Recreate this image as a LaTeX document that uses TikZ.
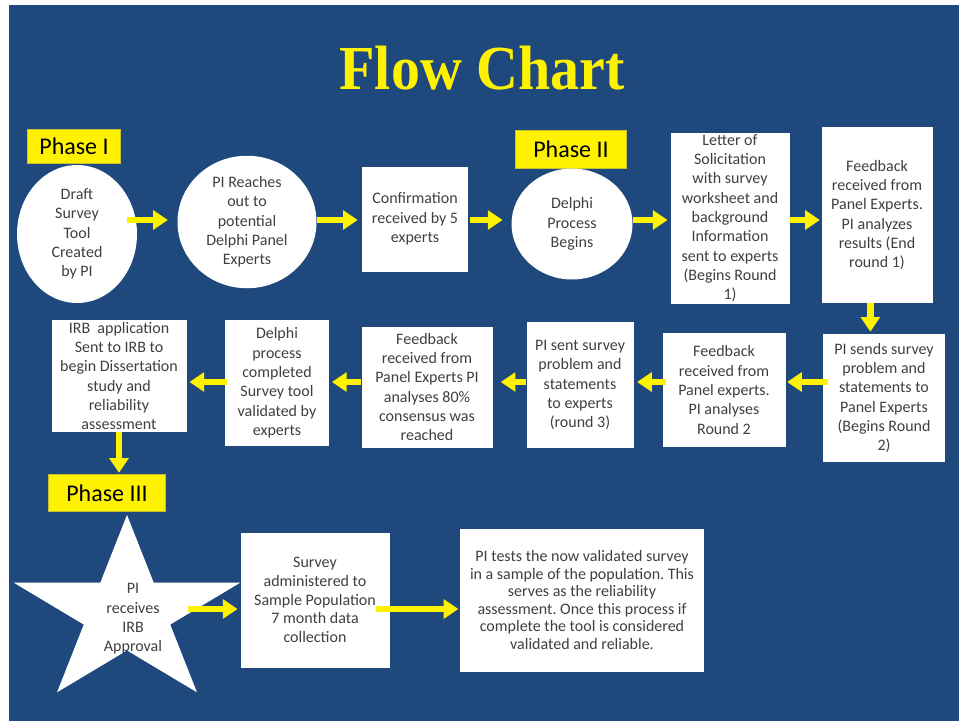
\documentclass[tikz,border=0pt]{standalone}
\usepackage{fontspec}
\setmainfont{Carlito}
\newfontfamily\titlefont{Liberation Serif}
\usepackage{xcolor}
\usepackage{tikz}
\usetikzlibrary{shapes.geometric,arrows.meta}
\frenchspacing
\definecolor{slideblue}{RGB}{31,73,125}
\definecolor{boxtext}{RGB}{64,64,64}
\tikzset{
  card/.style={fill=white,text=boxtext,align=center,inner sep=1pt,font=\fontsize{12}{14.5}\selectfont},
  oval/.style={card,ellipse},
  wh/.style 2 args={minimum width=#1*0.75pt,minimum height=#2*0.75pt},
  phase/.style={fill=yellow,draw=yellow!75!black,line width=0.5pt,text=black,inner sep=1pt,font=\fontsize{18}{21}\selectfont},
  yarrow/.style={draw=yellow,line width=5pt,-{Triangle[width=14pt,length=11pt]}}
}

\begin{document}
\begin{tikzpicture}[x=0.75pt,y=-0.75pt]
		\useasboundingbox (0,0) rectangle (959,721);
		\fill[white] (0,0) rectangle (959,721);
		\fill[slideblue] (9,5) rectangle (959,721);
		\node[anchor=base,text=yellow,font={\titlefont\bfseries\fontsize{43.5}{50}\selectfont},yscale=1.08] (title) at (482,89) {Flow Chart};
		\coordinate (row1) at (0,220);
		\coordinate (row2) at (0,382);
		\coordinate (row3) at (0,609);
		% phase I
		\node[phase,wh={93}{34}] (phaseI) at (74,146) {Phase I};
		\node[oval,wh={120}{138}] (draft) at (77,234) {Draft\\Survey\\Tool\\Created\\by PI};
		\node[oval,wh={139}{129}] (reach) at (247,222) {PI Reaches\\out to\\potential\\Delphi Panel\\Experts};
		\node[card,wh={106}{105}] (conf) at (415,219) {Confirmation\\received by 5\\experts};
		% phase II
		\node[phase,wh={111}{38}] (phaseII) at (571,149) {Phase II};
		\node[oval,wh={121}{111}] (delphi) at (572,224) {Delphi\\Process\\Begins};
		\node[card,wh={119}{171}] (letter) at (730,218) {Letter of\\Solicitation\\with survey\\worksheet and\\background\\Information\\sent to experts\\(Begins Round\\1)};
		\node[card,wh={111}{176}] (fbone) at (877,215) {Feedback\\received from\\Panel Experts.\\PI analyzes\\results (End\\round 1)};
		\node[card,wh={122}{128}] (sends) at (884,398) {PI sends survey\\problem and\\statements to\\Panel Experts\\(Begins Round\\2)};
		\node[card,wh={123}{114}] (fbtwo) at (724,390) {Feedback\\received from\\Panel experts.\\PI analyses\\Round 2};
		\node[card,wh={107}{126}] (sentthree) at (580,385) {PI sent survey\\problem and\\statements\\to experts\\(round 3)};
		\node[card,wh={131}{121}] (fbthree) at (427,387) {Feedback\\received from\\Panel Experts PI\\analyses 80\%\\consensus was\\reached};
		\node[card,wh={104}{126}] (done) at (277,383) {Delphi\\process\\completed\\Survey tool\\validated by\\experts};
		\node[card,wh={135}{112}] (irb) at (119,376) {IRB~~application\\Sent to IRB to\\begin Dissertation\\study and\\reliability\\assessment};
		% phase III
		\node[phase,wh={117}{37}] (phaseIII) at (107,493) {Phase III};
		\fill[white] plot[samples at={0,...,9},variable=\k] ({127+119*(1-0.618*mod(\k,2))*cos(90+36*\k)},{613-98*(1-0.618*mod(\k,2))*sin(90+36*\k)}) -- cycle;
		\node[card,fill=none] (approval) at (133,619) {PI\\receives\\IRB\\Approval};
		\node[card,wh={149}{135},font=\fontsize{12}{14}\selectfont] (survey) at (315,600) {Survey\\administered to\\Sample Population\\7 month data\\collection};
		\node[card,wh={244}{143},font=\fontsize{12}{13.2}\selectfont] (final) at (582,600) {PI tests the now validated survey\\in a sample of the population. This\\serves as the reliability\\assessment. Once this process if\\complete the tool is considered\\validated and reliable.};
		% arrows
		\draw[yarrow,shorten <=-8pt,shorten >=7pt] (draft.east |- row1) -- (reach.west |- row1);
		\draw[yarrow,shorten >=3pt] (reach.east |- row1) -- (conf.west |- row1);
		\draw[yarrow,shorten <=1.5pt,shorten >=6.5pt] (conf.east |- row1) -- (delphi.west |- row1);
		\draw[yarrow,shorten >=2pt] (delphi.east |- row1) -- (letter.west |- row1);
		\draw[yarrow,shorten >=1pt] (letter.east |- row1) -- (fbone.west |- row1);
		\draw[yarrow,shorten >=1.5pt] ([xshift=-5pt]fbone.south) -- ([xshift=-5pt]fbone.south |- sends.north);
		\draw[yarrow,shorten <=-4pt,shorten >=1pt] (sends.west |- row2) -- (fbtwo.east |- row2);
		\draw[yarrow,shorten <=-3pt,shorten >=2.5pt] (fbtwo.west |- row2) -- (sentthree.east |- row2);
		\draw[yarrow,shorten >=6pt] (sentthree.west |- row2) -- (fbthree.east |- row2);
		\draw[yarrow,shorten >=2pt] (fbthree.west |- row2) -- (done.east |- row2);
		\draw[yarrow,shorten <=-1.5pt,shorten >=2pt] (done.west |- row2) -- (irb.east |- row2);
		\draw[yarrow,shorten >=1pt] (irb.south) -- (irb.south |- phaseIII.north);
		\draw[yarrow,shorten <=18pt,shorten >=2pt] (approval.east |- row3) -- (survey.west |- row3);
		\draw[yarrow,shorten <=-10pt,shorten >=1pt] (survey.east |- row3) -- (final.west |- row3);
	\end{tikzpicture}
\end{document}
